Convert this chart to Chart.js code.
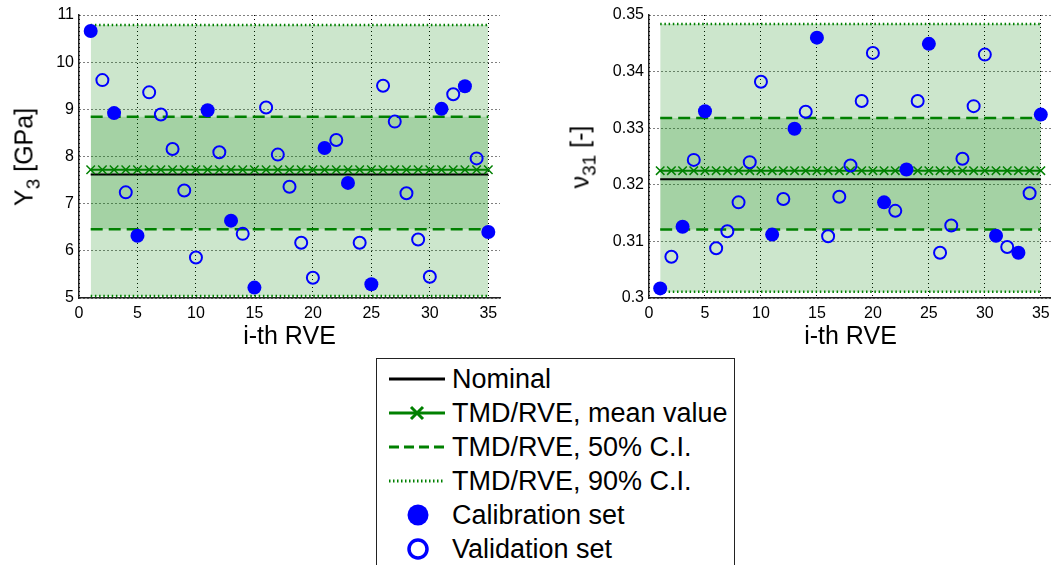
<!DOCTYPE html>
<html>
<head>
<meta charset="utf-8">
<script src="https://cdn.jsdelivr.net/npm/chart.js@4.4.0/dist/chart.umd.min.js"></script>
<style>
    html, body { margin: 0; padding: 0; background: #fff; overflow: hidden; }
    body { width: 1051px; height: 565px; position: relative; font-family: Arial, "Liberation Sans", sans-serif; }
    #wrap { position: absolute; left: 0; top: 0; width: 1070px; height: 565px; }
    canvas { position: absolute; top: 0; }
    .ytitle {
        position: absolute; transform: translate(-50%, -50%) rotate(-90deg);
        font-size: 25px; line-height: 1; white-space: nowrap; color: #000;
    }
    .ytitle sub { font-size: 19px; line-height: 0; vertical-align: -7px; }
    .legend {
        position: absolute; left: 376px; top: 358px; width: 359px; height: 240px;
        border: 1.5px solid #222; background: #fff; box-sizing: border-box; padding-top: 3px;
    }
    .row { position: relative; height: 34px; }
    .row svg { position: absolute; left: 0; top: 0; }
    .row span { position: absolute; left: 75px; top: 2px; font-size: 27px; line-height: 30px; color: #000; white-space: nowrap; }
</style>
</head>
<body>
<div id="wrap">
    <canvas id="y3Chart" width="520" height="355" style="left:0px"></canvas>
    <canvas id="nuChart" width="500" height="355" style="left:560px"></canvas>
    <div class="ytitle" style="left:24px; top:157px">Y<sub>3</sub> [GPa]</div>
    <div class="ytitle" style="left:580px; top:157px">ν<sub>31</sub> [-]</div>

    <div class="legend">
        <div class="row">
            <svg width="75" height="34"><line x1="12" y1="17" x2="68" y2="17" stroke="#000" stroke-width="3"/></svg>
            <span>Nominal</span>
        </div>
        <div class="row">
            <svg width="75" height="34">
                <line x1="12" y1="17" x2="68" y2="17" stroke="#008000" stroke-width="3"/>
                <path d="M34 11 L46 23 M46 11 L34 23" stroke="#008000" stroke-width="3"/>
            </svg>
            <span>TMD/RVE, mean value</span>
        </div>
        <div class="row">
            <svg width="75" height="34"><line x1="12" y1="17" x2="68" y2="17" stroke="#008000" stroke-width="3" stroke-dasharray="10,5"/></svg>
            <span>TMD/RVE, 50% C.I.</span>
        </div>
        <div class="row">
            <svg width="75" height="34"><line x1="12" y1="17" x2="68" y2="17" stroke="#008000" stroke-width="3" stroke-dasharray="1.5,2.5"/></svg>
            <span>TMD/RVE, 90% C.I.</span>
        </div>
        <div class="row">
            <svg width="75" height="34"><circle cx="41" cy="17" r="10.5" fill="#0000ff"/></svg>
            <span>Calibration set</span>
        </div>
        <div class="row">
            <svg width="75" height="34"><circle cx="41" cy="17" r="9" fill="none" stroke="#0000ff" stroke-width="3.5"/></svg>
            <span>Validation set</span>
        </div>
    </div>
</div>

<script>
// --- Datos ---
const rveIndex = [1, 2, 3, 4, 5, 6, 7, 8, 9, 10, 11, 12, 13, 14, 15, 16, 17, 18,
                  19, 20, 21, 22, 23, 24, 25, 26, 27, 28, 29, 30, 31, 32, 33, 34, 35];
const calibrationIdx = [1, 3, 5, 11, 13, 15, 21, 23, 25, 31, 33, 35];

const y3Values = [10.66, 9.62, 8.92, 7.24, 6.32, 9.36, 8.89, 8.16, 7.28, 5.86,
                  8.98, 8.09, 6.64, 6.36, 5.22, 9.04, 8.04, 7.36, 6.17, 5.43,
                  8.18, 8.35, 7.44, 6.17, 5.29, 9.50, 8.74, 7.22, 6.24, 5.45,
                  9.01, 9.32, 9.49, 7.96, 6.40];
const nu31Values = [0.3017, 0.3073, 0.3126, 0.3244, 0.3330, 0.3088, 0.3118, 0.3169, 0.3240, 0.3382,
                    0.3112, 0.3175, 0.3299, 0.3329, 0.3460, 0.3109, 0.3179, 0.3234, 0.3348, 0.3433,
                    0.3169, 0.3154, 0.3227, 0.3348, 0.3449, 0.3080, 0.3128, 0.3246, 0.3339, 0.3430,
                    0.3110, 0.3090, 0.3080, 0.3185, 0.3324];

// nominal, media, intervalos de confianza [inferior, superior]
const y3Nominal = 7.62, y3Mean = 7.72;
const y3Ci50 = [6.46, 8.845];
const y3Ci90 = [5.04, 10.79];
const nu31Nominal = 0.3210, nu31Mean = 0.3225;
const nu31Ci50 = [0.3121, 0.3318];
const nu31Ci90 = [0.3011, 0.3484];
const bandX = [1, 35];

const xTicks = [0, 5, 10, 15, 20, 25, 30, 35];
const y3Ticks = [5, 6, 7, 8, 9, 10, 11];
const y3TickLabels = ['5', '6', '7', '8', '9', '10', '11'];
const nu31Ticks = [0.30, 0.31, 0.32, 0.33, 0.34, 0.35];
const nu31TickLabels = ['0.3', '0.31', '0.32', '0.33', '0.34', '0.35'];

const GREEN = '#008000';
const BLUE = '#0000ff';
const BAND = 'rgba(0, 128, 0, 0.2)';

Chart.defaults.font.family = 'Arial, "Liberation Sans", sans-serif';
Chart.defaults.color = '#000';

document.addEventListener('DOMContentLoaded', () => {
    buildChart('y3Chart', y3Values, y3Nominal, y3Mean, y3Ci50, y3Ci90,
               y3Ticks, y3TickLabels, [5, 11], 79, 20);
    buildChart('nuChart', nu31Values, nu31Nominal, nu31Mean, nu31Ci50, nu31Ci90,
               nu31Ticks, nu31TickLabels, [0.30, 0.35], 89, 7);
});

function hLine(value) {
    return bandX.map(x => ({ x: x, y: value }));
}

function buildChart(id, values, nominal, mean, ci50, ci90, yTicks, yLabels, yRange, yWidth, padRight) {
    const calPts = calibrationIdx.map(i => ({ x: i, y: values[i - 1] }));
    const valPts = rveIndex.filter(i => !calibrationIdx.includes(i))
                           .map(i => ({ x: i, y: values[i - 1] }));

    const ctx = document.getElementById(id).getContext('2d');
    new Chart(ctx, {
        type: 'scatter',
        data: {
            datasets: [
                { label: 'Calibration set', data: calPts, pointRadius: 7, pointBackgroundColor: BLUE,
                  pointBorderWidth: 0, showLine: false },
                { label: 'Validation set', data: valPts, pointRadius: 6, pointBackgroundColor: 'rgba(0,0,0,0)',
                  pointBorderColor: BLUE, pointBorderWidth: 2, showLine: false },
                { label: 'TMD/RVE, mean value', data: rveIndex.map(i => ({ x: i, y: mean })), showLine: true,
                  borderColor: GREEN, borderWidth: 2, pointStyle: 'crossRot', pointRadius: 6,
                  pointBorderColor: GREEN, pointBorderWidth: 1.5 },
                { label: 'Nominal', data: hLine(nominal), showLine: true, borderColor: '#000',
                  borderWidth: 2, pointRadius: 0 },
                { label: '50% up', data: hLine(ci50[1]), showLine: true, borderColor: GREEN, borderWidth: 2.5,
                  borderDash: [12, 6], pointRadius: 0, fill: '+1', backgroundColor: BAND },
                { label: '50% low', data: hLine(ci50[0]), showLine: true, borderColor: GREEN, borderWidth: 2.5,
                  borderDash: [12, 6], pointRadius: 0, fill: false },
                { label: '90% up', data: hLine(ci90[1]), showLine: true, borderColor: GREEN, borderWidth: 2.5,
                  borderDash: [1.5, 2.7], pointRadius: 0, fill: '+1', backgroundColor: BAND },
                { label: '90% low', data: hLine(ci90[0]), showLine: true, borderColor: GREEN, borderWidth: 2.5,
                  borderDash: [1.5, 2.7], pointRadius: 0, fill: false }
            ]
        },
        options: {
            responsive: false,
            animation: false,
            events: [],
            layout: { padding: { top: 15, right: padRight, left: 0, bottom: 0 } },
            plugins: { legend: { display: false }, tooltip: { enabled: false } },
            scales: {
                x: {
                    type: 'linear', min: 0, max: 36,
                    afterBuildTicks: (scale) => { scale.ticks = xTicks.map(v => ({ value: v })); },
                    afterFit: (scale) => { scale.height = 57; },
                    ticks: { font: { size: 16 }, padding: 6, color: '#000', maxRotation: 0 },
                    grid: { color: '#000', lineWidth: 1, drawTicks: false },
                    border: { display: true, color: '#222', width: 1.5, dash: [1, 3] },
                    title: { display: true, text: 'i-th RVE', font: { size: 25 }, color: '#000',
                             padding: { top: 0, bottom: 3 } }
                },
                y: {
                    type: 'linear', min: yRange[0], max: yRange[1],
                    afterBuildTicks: (scale) => { scale.ticks = yTicks.map(v => ({ value: v })); },
                    afterFit: (scale) => { scale.width = yWidth; },
                    ticks: { font: { size: 16 }, padding: 5, color: '#000',
                             callback: (v, i) => yLabels[i] },
                    grid: { color: '#000', lineWidth: 1, drawTicks: false },
                    border: { display: true, color: '#222', width: 1.5, dash: [1, 3] }
                }
            }
        }
    });
}
</script>
</body>
</html>
